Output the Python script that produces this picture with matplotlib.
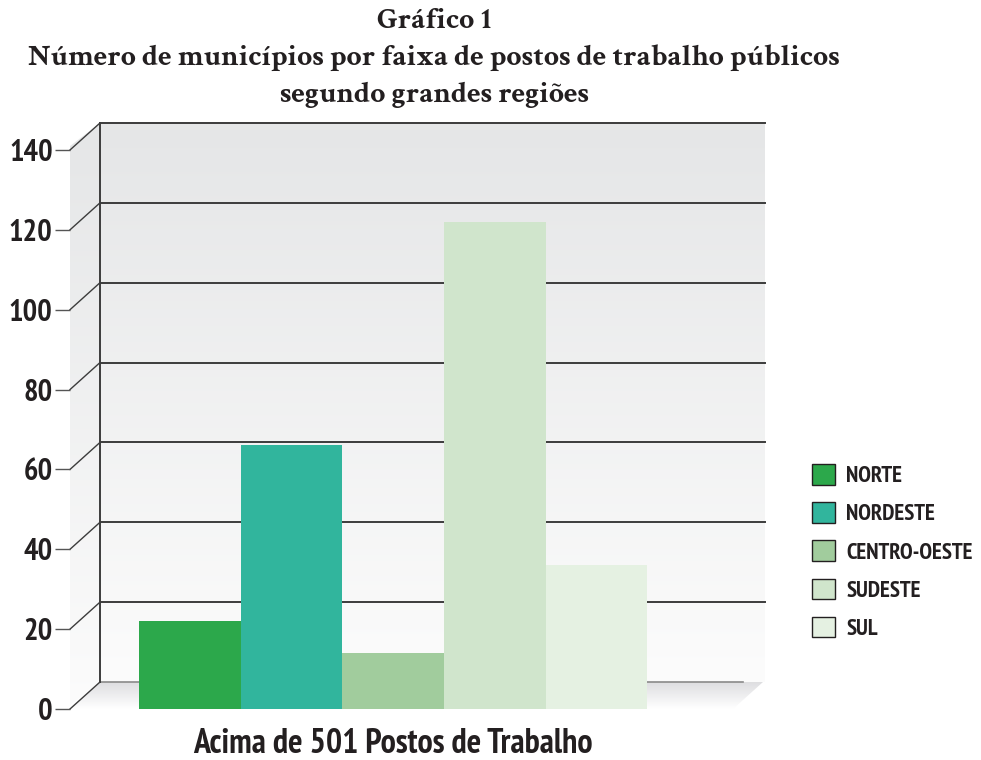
import matplotlib
matplotlib.use("Agg")
import matplotlib.pyplot as plt
import numpy as np
from matplotlib.patches import Polygon, Patch

# ---------------- data ----------------
regions = ["NORTE", "NORDESTE", "CENTRO-OESTE", "SUDESTE", "SUL"]
values = [22, 66, 14, 122, 36]
colors = ["#2ca84b", "#31b59d", "#a1cc9d", "#d0e5cc", "#e5f1e2"]
category = "Acima de 501 Postos de Trabalho"
yticks = [0, 20, 40, 60, 80, 100, 120, 140]
title_lines = ["Gráfico 1",
               "Número de municípios por faixa de postos de trabalho públicos",
               "segundo grandes regiões"]

TXT = "#231f20"
SANS = ["PT Sans Narrow", "DejaVu Sans"]
SERIF = ["Crimson Text", "Liberation Serif", "DejaVu Serif"]

W, H = 981, 760
fig = plt.figure(figsize=(W / 100, H / 100), dpi=100)

# axes geometry in pixels
ax_l, ax_r, ax_t, ax_b = 70, 770, 100, 709
ax = fig.add_axes([ax_l / W, (H - ax_b) / H, (ax_r - ax_l) / W, (ax_b - ax_t) / H])
px_per_x = 101.6
px_per_y = 3.993
x0_px = 190
ax.set_xlim((ax_l - x0_px) / px_per_x, (ax_r - x0_px) / px_per_x)
ax.set_ylim(0, (ax_b - ax_t) / px_per_y)
ax.patch.set_alpha(0)
for s in ax.spines.values():
    s.set_visible(False)

def xd(px):
    return (px - x0_px) / px_per_x

DX = 30 / px_per_x
DY = 27 / px_per_y
XL = xd(70)
XRB = xd(765)
XFR = xd(733)
YTOP = yticks[-1]

# back wall gradient
grad = np.linspace(0, 1, 256).reshape(-1, 1)
c_top = np.array([0.898, 0.902, 0.906])
c_bot = np.array([0.988, 0.988, 0.988])
img = c_bot[None, None, :] * (1 - grad[:, :, None]) + c_top[None, None, :] * grad[:, :, None]
ax.imshow(img, extent=[XL + DX, XRB, DY, YTOP + DY], origin="lower",
          aspect="auto", zorder=0.5, interpolation="bilinear")

# side wall
side = Polygon([(XL - 0.05, 0), (XL - 0.05, YTOP), (XL + DX, YTOP + DY), (XL + DX, DY)],
               closed=True, facecolor="none", edgecolor="none")
ax.add_patch(side)
im2 = ax.imshow(img, extent=[XL - 0.05, XL + DX, 0, YTOP + DY], origin="lower",
                aspect="auto", zorder=0.4, interpolation="bilinear")
im2.set_clip_path(side)

# floor
floor = Polygon([(XL, 0), (XFR, 0), (XFR + DX, DY), (XL + DX, DY)],
                closed=True, facecolor="none", edgecolor="none")
ax.add_patch(floor)
g2 = np.linspace(0, 1, 64).reshape(-1, 1)
fb = np.array([0.87, 0.87, 0.88])
ff = np.array([1.0, 1.0, 1.0])
fimg = ff[None, None, :] * (1 - g2[:, :, None]) + fb[None, None, :] * g2[:, :, None]
im3 = ax.imshow(fimg, extent=[XL, XFR + DX, 0, DY], origin="lower",
                aspect="auto", zorder=0.6, interpolation="bilinear")
im3.set_clip_path(floor)

# gridlines on back wall + diagonals
for v in yticks:
    if v == 0:
        ax.plot([XL + DX, xd(743)], [DY, DY], color="#8a8a8a", lw=1.2, zorder=1)
    else:
        ax.plot([XL + DX, XRB], [v + DY, v + DY], color="#3c3c3c", lw=1.4, zorder=1)
    ax.plot([XL, XL + DX], [v, v + DY], color="#3c3c3c", lw=1.0, zorder=1,
            clip_on=False)
ax.plot([XL + DX, XL + DX], [DY, YTOP + DY], color="#3c3c3c", lw=1.4, zorder=1)

# bars
x = np.arange(len(regions))
bars = ax.bar(x, values, width=1.0, color=colors, zorder=3, linewidth=0)

# ticks
ax.set_yticks(yticks)
ax.set_yticklabels([str(v) for v in yticks], fontsize=22, fontweight="bold",
                   color=TXT, family=SANS)
ax.tick_params(axis="y", length=11, width=1.0, color="#555555", pad=1.5)
ax.set_xticks([2])
ax.set_xticklabels([category], fontsize=24.5, fontweight="bold", color=TXT, family=SANS)
ax.tick_params(axis="x", length=0, pad=14)

# legend
handles = [Patch(facecolor=c, edgecolor="#231f20", linewidth=1.0) for c in colors]
fig.legend(handles, regions, loc="upper left",
           bbox_to_anchor=(812 / W, 1 - 464 / H), frameon=False,
           prop={"family": SANS, "weight": "bold", "size": 16.5},
           labelcolor=TXT, handlelength=1.0, handleheight=1.0,
           handletextpad=0.5, labelspacing=0.66, borderpad=0, borderaxespad=0)

# title
for i, (line, yp) in enumerate(zip(title_lines, [21, 58, 95])):
    fig.text(434 / W, 1 - yp / H, line, ha="center", va="center", fontsize=21.5,
             fontweight="bold", family=SERIF, color=TXT)

fig.savefig("out.png", dpi=100)
